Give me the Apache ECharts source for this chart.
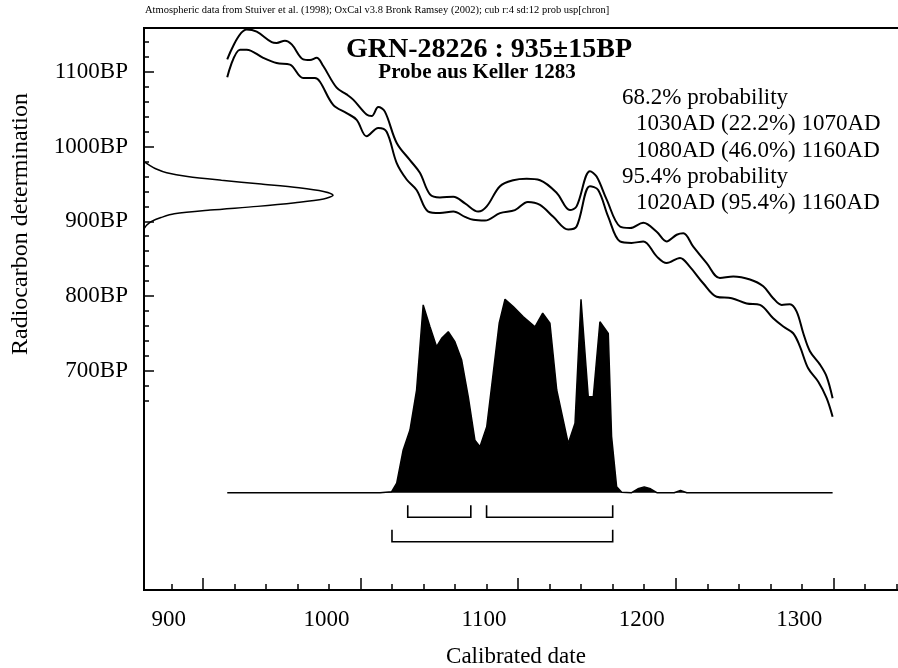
<!DOCTYPE html>
<html><head><meta charset="utf-8">
<script src="https://cdn.jsdelivr.net/npm/echarts@6/dist/echarts.min.js"></script>
<style>html,body{margin:0;padding:0;background:#fff}#c{width:898px;height:668px}</style>
</head><body><div id="c"></div>
<script>
// ---- data ----
const headerText = 'Atmospheric data from Stuiver et al. (1998); OxCal v3.8 Bronk Ramsey (2002); cub r:4 sd:12 prob usp[chron]';
const titleText = 'GRN-28226 : 935±15BP';
const subtitleText = 'Probe aus Keller 1283';
const xAxisTitle = 'Calibrated date';
const yAxisTitle = 'Radiocarbon determination';

const xLabelValues = [900, 1000, 1100, 1200, 1300];
const xMajorTicks = [900, 1000, 1100, 1200, 1300];
const xMinorTicks = [880, 900, 920, 940, 960, 980, 1000, 1020, 1040, 1060, 1080, 1100, 1120, 1140, 1160, 1180, 1200, 1220, 1240, 1260, 1280, 1300, 1320, 1340];
const yLabelValues = [700, 800, 900, 1000, 1100];
const yMinorTicks = [660, 680, 700, 720, 740, 760, 780, 800, 820, 840, 860, 880, 900, 920, 940, 960, 980, 1000, 1020, 1040, 1060, 1080, 1100, 1120, 1140];

// calibration curve (upper / lower 1-sigma envelope)
const upperYears = [915.5, 927.8, 934.2, 943.7, 946.8, 952.1, 956.4, 963.7, 968.0, 972.2, 976.4, 984.9, 991.2, 995.4, 1003.9, 1007.1, 1011.3, 1015.5, 1023.0, 1031.4, 1037.7, 1044.1, 1050.4, 1058.9, 1066.3, 1074.7, 1080.1, 1088.5, 1096.9, 1105.4, 1113.9, 1124.5, 1132.9, 1137.1, 1145.6, 1149.8, 1156.2, 1164.6, 1171.0, 1179.4, 1187.9, 1194.2, 1200.6, 1204.8, 1211.1, 1219.6, 1228.0, 1236.5, 1247.1, 1255.5, 1261.8, 1267.2, 1272.4, 1276.7, 1280.9, 1285.1, 1291.5, 1295.7, 1299.5];
const upperBP = [1117, 1157, 1154, 1140, 1139, 1142, 1137, 1117, 1116, 1119, 1108, 1079, 1070, 1063, 1043, 1041, 1053, 1047, 1005, 982, 965, 936, 932, 933, 924, 913, 920, 947, 955, 957, 955, 938, 915, 920, 967, 960, 929, 893, 891, 898, 886, 873, 882, 884, 866, 844, 824, 826, 822, 813, 797, 788, 789, 779, 750, 726, 708, 692, 663];
const lowerYears = [915.5, 923.6, 927.8, 938.3, 946.8, 955.3, 963.7, 971.1, 974.3, 982.7, 991.2, 997.6, 1003.9, 1011.3, 1016.6, 1023.0, 1029.3, 1035.6, 1043.0, 1050.4, 1058.9, 1066.3, 1071.6, 1079.0, 1088.5, 1098.0, 1106.2, 1113.9, 1122.3, 1131.8, 1137.1, 1145.6, 1150.8, 1157.2, 1164.6, 1172.0, 1179.4, 1187.9, 1194.2, 1202.7, 1209.0, 1217.4, 1225.9, 1235.5, 1245.0, 1253.4, 1261.8, 1268.2, 1274.5, 1278.8, 1284.0, 1290.4, 1295.7, 1299.5];
const lowerBP = [1093, 1130, 1130, 1119, 1112, 1110, 1092, 1092, 1087, 1056, 1045, 1036, 1014, 1025, 1020, 978, 956, 942, 913, 911, 913, 906, 902, 901, 911, 915, 926, 922, 906, 889, 893, 947, 942, 906, 873, 871, 873, 853, 844, 851, 839, 817, 799, 797, 790, 788, 770, 759, 750, 732, 703, 685, 663, 638];

// measured radiocarbon date (relative probability vs BP)
const gaussBP = [980, 975, 970, 965, 960, 955, 950, 945, 940, 935, 930, 925, 920, 915, 910, 905, 900, 895, 890];
const gaussDensity = [0.0, 0.03, 0.065, 0.12, 0.23, 0.41, 0.62, 0.82, 0.95, 1.0, 0.95, 0.8, 0.6, 0.35, 0.16, 0.09, 0.04, 0.015, 0.0];

// calibrated distribution (relative probability vs calendar year)
const distYears = [915.5, 1012.4, 1019.8, 1023.0, 1027.1, 1031.4, 1035.6, 1039.8, 1044.1, 1048.3, 1051.5, 1055.7, 1059.9, 1064.2, 1068.4, 1072.6, 1075.8, 1080.1, 1084.2, 1088.0, 1091.7, 1096.9, 1103.3, 1110.7, 1115.6, 1120.2, 1124.5, 1131.8, 1136.1, 1139.9, 1144.5, 1147.7, 1151.9, 1157.2, 1159.3, 1162.5, 1165.7, 1172, 1176, 1180, 1184, 1188, 1199, 1203, 1207, 1299.5];
const distProb = [0, 0, 0.005, 0.049, 0.221, 0.324, 0.531, 0.971, 0.858, 0.755, 0.798, 0.832, 0.781, 0.686, 0.496, 0.272, 0.238, 0.341, 0.617, 0.876, 1.0, 0.962, 0.910, 0.858, 0.928, 0.876, 0.531, 0.255, 0.359, 1.0, 0.496, 0.496, 0.884, 0.824, 0.290, 0.031, 0.002, 0, 0.02, 0.03, 0.02, 0, 0, 0.012, 0, 0];

// probability ranges
const range68 = [[1030, 1070, 22.2], [1080, 1160, 46.0]];
const range95 = [[1020, 1160, 95.4]];

// ---- layout ----
const FONT = '"Liberation Serif", "Times New Roman", serif';
const X_MIN = 862.7, X_MAX = 1350;
const PX_PER_YEAR = 1.5765;
const GRID_LEFT = 144, GRID_TOP = 28, GRID_H = 562;
const GRID_W = (X_MAX - X_MIN) * PX_PER_YEAR;
const LABEL_SHIFT = 21.6;          // tick labels sit left of their tall ticks in the reference
const GAUSS_PEAK_PX = 189;
const DIST_PEAK_PX = 193.4, DIST_BASE_FROM_BOTTOM = 97.3;
const distMin = -DIST_BASE_FROM_BOTTOM / DIST_PEAK_PX;
const distMax = distMin + GRID_H / DIST_PEAK_PX;

const zip = (a, b) => a.map((v, i) => [v, b[i]]);
const bracketData = range68.map(r => [r[0], r[1], 0]).concat(range95.map(r => [r[0], r[1], 1]));

const probLines = ['68.2% probability']
  .concat(range68.map(r => '  ' + r[0] + 'AD (' + r[2].toFixed(1) + '%) ' + r[1] + 'AD'))
  .concat(['95.4% probability'])
  .concat(range95.map(r => '  ' + r[0] + 'AD (' + r[2].toFixed(1) + '%) ' + r[1] + 'AD'));

const probGraphics = probLines.map((t, i) => ({
  type: 'text', x: t.startsWith('  ') ? 636 : 622, y: 98 + i * 26.3,
  style: { text: t.trim(), font: '23px ' + FONT, fill: '#000', verticalAlign: 'middle' }
}));

const blackLine = { color: '#000', width: 2 };
const chart = echarts.init(document.getElementById('c'), null, { renderer: 'canvas' });
chart.setOption({
  animation: false,
  backgroundColor: '#fff',
  grid: { left: GRID_LEFT, top: GRID_TOP, width: GRID_W, height: GRID_H, show: true, borderColor: '#000', borderWidth: 2,
          backgroundColor: 'transparent', containLabel: false, outerBoundsMode: 'none' },
  xAxis: [
    { type: 'value', min: X_MIN, max: X_MAX, position: 'bottom',
      axisLine: { show: true, onZero: false, lineStyle: blackLine },
      axisTick: { show: true, inside: true, length: 6, customValues: xMinorTicks, lineStyle: { color: '#000', width: 1.5 } },
      axisLabel: { show: false }, splitLine: { show: false } },
    { type: 'value', min: X_MIN, max: X_MAX, position: 'bottom',
      axisLine: { show: false, onZero: false },
      axisTick: { show: true, inside: true, length: 12, customValues: xMajorTicks, lineStyle: { color: '#000', width: 1.5 } },
      axisLabel: { show: false }, splitLine: { show: false } },
    { type: 'value', min: X_MIN + LABEL_SHIFT, max: X_MAX + LABEL_SHIFT, position: 'bottom',
      axisLine: { show: false, onZero: false }, axisTick: { show: false },
      axisLabel: { show: true, customValues: xLabelValues, formatter: v => String(v), margin: 18, fontSize: 23, fontFamily: FONT, color: '#000' },
      splitLine: { show: false } },
    { type: 'value', min: 0, max: GRID_W / GAUSS_PEAK_PX, show: false, axisLine: { onZero: false } }
  ],
  yAxis: [
    { type: 'value', min: 406, max: 1159, position: 'left',
      axisLine: { show: true, onZero: false, lineStyle: blackLine },
      axisTick: { show: true, inside: true, length: 10, customValues: yLabelValues, lineStyle: { color: '#000', width: 1.5 } },
      axisLabel: { show: true, customValues: yLabelValues, formatter: v => v + 'BP', margin: 16, fontSize: 23, fontFamily: FONT, color: '#000' },
      splitLine: { show: false } },
    { type: 'value', min: distMin, max: distMax, show: false, axisLine: { onZero: false } },
    { type: 'value', min: 406, max: 1159, position: 'left',
      axisLine: { show: false, onZero: false },
      axisTick: { show: true, inside: true, length: 5, customValues: yMinorTicks, lineStyle: { color: '#000', width: 1.5 } },
      axisLabel: { show: false }, splitLine: { show: false } }
  ],
  series: [
    { type: 'line', name: 'upper', xAxisIndex: 0, yAxisIndex: 0, data: zip(upperYears, upperBP), showSymbol: false, smooth: 0.35, lineStyle: blackLine },
    { type: 'line', name: 'lower', xAxisIndex: 0, yAxisIndex: 0, data: zip(lowerYears, lowerBP), showSymbol: false, smooth: 0.35, lineStyle: blackLine },
    { type: 'line', name: 'measured', xAxisIndex: 3, yAxisIndex: 0, data: zip(gaussDensity, gaussBP), showSymbol: false, smooth: 0.3, lineStyle: { color: '#000', width: 1.5 } },
    { type: 'line', name: 'calibrated', xAxisIndex: 0, yAxisIndex: 1, data: zip(distYears, distProb), showSymbol: false,
      lineStyle: { color: '#000', width: 1.5 }, areaStyle: { color: '#000', opacity: 1, origin: 0 } },
    { type: 'custom', name: 'ranges', xAxisIndex: 0, yAxisIndex: 1, data: bracketData,
      renderItem: (params, api) => {
        const s = api.coord([api.value(0), 0]);
        const e = api.coord([api.value(1), 0]);
        const yLine = s[1] + 24.6 + api.value(2) * 24.4;
        const top = yLine - 12;
        return { type: 'polyline', shape: { points: [[s[0], top], [s[0], yLine], [e[0], yLine], [e[0], top]] },
          style: { stroke: '#000', lineWidth: 1.6, fill: null } };
      } }
  ],
  graphic: [
    { type: 'text', x: 145, y: 10, style: { text: headerText, font: '10.5px ' + FONT, fill: '#000', verticalAlign: 'middle' } },
    { type: 'text', x: 489, y: 50, style: { text: titleText, font: 'bold 28px ' + FONT, fill: '#000', align: 'center', verticalAlign: 'middle' } },
    { type: 'text', x: 477, y: 73, style: { text: subtitleText, font: 'bold 21px ' + FONT, fill: '#000', align: 'center', verticalAlign: 'middle' } },
    { type: 'text', x: 21, y: 224, rotation: Math.PI / 2, style: { text: yAxisTitle, font: '24px ' + FONT, fill: '#000', align: 'center', verticalAlign: 'middle' } },
    { type: 'text', x: 516, y: 657, style: { text: xAxisTitle, font: '23px ' + FONT, fill: '#000', align: 'center', verticalAlign: 'middle' } }
  ].concat(probGraphics)
});
</script></body></html>
